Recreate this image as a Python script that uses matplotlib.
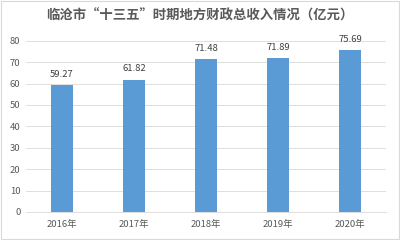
import matplotlib
matplotlib.use("Agg")
import matplotlib.pyplot as plt

plt.rcParams['font.family'] = ['Noto Sans CJK SC', 'DejaVu Sans']

categories = ["2016年", "2017年", "2018年", "2019年", "2020年"]
values = [59.27, 61.82, 71.48, 71.89, 75.69]
labels = ["59.27", "61.82", "71.48", "71.89", "75.69"]
title = "临沧市“十三五”时期地方财政总收入情况（亿元）"

fig = plt.figure(figsize=(4, 2.4), dpi=100)
fig.patch.set_facecolor("white")
ax = fig.add_axes([0.065, 0.117, 0.9, 0.713])
x = list(range(len(categories)))
bars = ax.bar(x, values, width=0.31, color="#5B9BD5", zorder=3)
for xi, v, lab in zip(x, values, labels):
    ax.text(xi, v + 3, lab, ha="center", va="bottom", fontsize=6.8, color="#404040")
ax.set_xlim(-0.5, len(categories) - 0.5)
ax.set_ylim(0, 80)
ax.set_yticks(range(0, 81, 10))
ax.set_xticks(x)
ax.set_xticklabels(categories)
ax.tick_params(axis="y", length=0, labelsize=6.8, colors="#595959", pad=4)
ax.tick_params(axis="x", length=0, labelsize=6.8, colors="#595959", pad=6)
ax.grid(axis="y", color="#D9D9D9", linewidth=0.6, zorder=0)
for s in ["top", "right", "left"]:
    ax.spines[s].set_visible(False)
ax.spines["bottom"].set_color("#D9D9D9")
ax.spines["bottom"].set_linewidth(0.6)
fig.text(0.5, 0.935, title, ha="center", va="center", fontsize=9.6, color="#595959", fontweight="bold")
fig.patches.append(plt.Rectangle((0.002, 0.004), 0.995, 0.992, transform=fig.transFigure,
                                 fill=False, edgecolor="#D9D9D9", linewidth=0.8))
fig.savefig("out.png", dpi=100)
